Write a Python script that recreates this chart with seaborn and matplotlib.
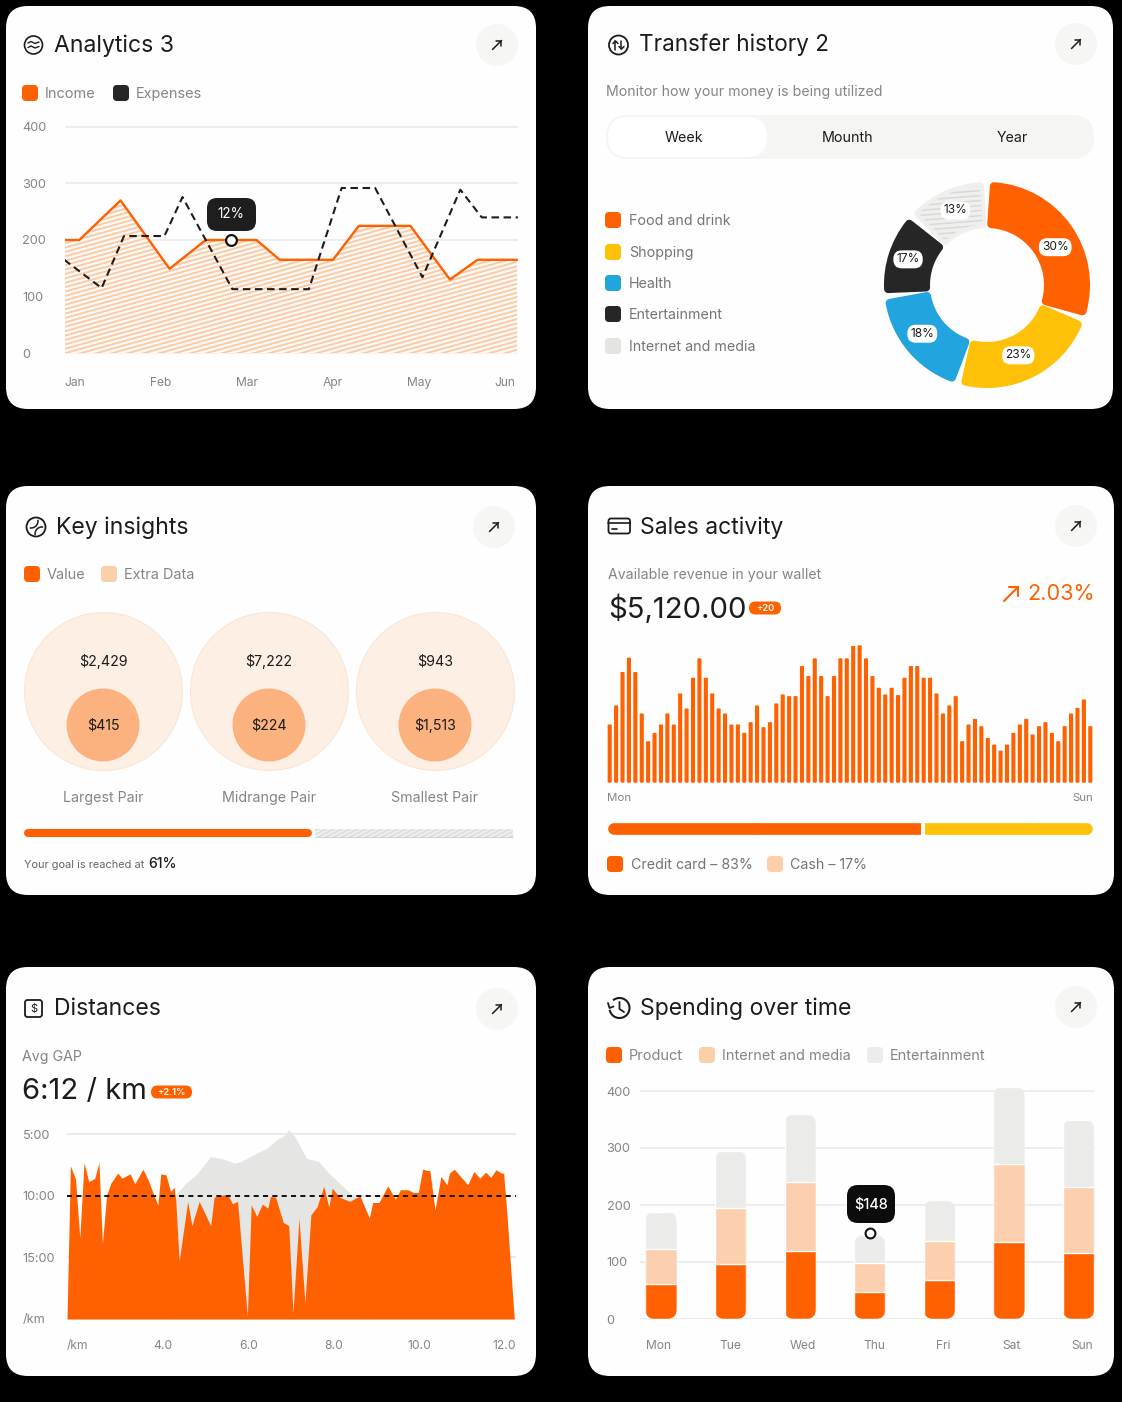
import numpy as np
import pandas as pd
import matplotlib
matplotlib.use('Agg')
import matplotlib.pyplot as plt
import seaborn as sns
from matplotlib.lines import Line2D
from matplotlib.patches import FancyBboxPatch, Circle, Rectangle, Arc

ORANGE = '#ff6000'
DARK = '#262626'
YELLOW = '#ffc107'
BLUE = '#22a5de'
GREY = '#ececeb'
PEACH = '#fccfab'
TXT = '#1c1c1c'
SUB = '#858585'

# analytics
month_labels = ['Jan', 'Feb', 'Mar', 'Apr', 'May', 'Jun']
income_x = [-0.125, 0.05, 0.53, 1.10, 1.52, 2.11, 2.38, 3.0, 3.30, 3.90, 4.36, 4.68, 5.14]
income_y = [200, 200, 270, 149, 200, 200, 165, 165, 225, 225, 130, 165, 165]
expense_x = [-0.125, 0.31, 0.57, 1.04, 1.25, 1.83, 2.72, 3.10, 3.49, 4.04, 4.48, 4.73, 5.15]
expense_y = [165, 115, 207, 207, 276, 113, 113, 292, 292, 134, 289, 240, 240]

# transfer history
transfer_names = ['Food and drink', 'Shopping', 'Health', 'Entertainment', 'Internet and media']
transfer_labels = ['30%', '23%', '18%', '17%', '13%']
transfer_spans = [100, 78, 58, 40, 39]   # drawn arc sizes, not proportional in the source
transfer_colors = [ORANGE, YELLOW, BLUE, DARK, '#efefee']

# key insights
pair_names = ['Largest Pair', 'Midrange Pair', 'Smallest Pair']
pair_extra = ['$2,429', '$7,222', '$943']
pair_value = ['$415', '$224', '$1,513']
goal_bar = [58, 42]

# sales activity
sales = [170, 227, 327, 370, 327, 203, 120, 145, 170, 203, 170, 263, 218, 310, 368, 310, 263, 218, 203, 170,
         170, 145, 177, 227, 162, 177, 233, 260, 255, 255, 345, 315, 368, 315, 255, 315, 368, 368, 405, 407,
         368, 315, 280, 260, 280, 258, 310, 345, 345, 310, 310, 263, 203, 227, 255, 120, 170, 187, 165, 130,
         110, 92, 110, 145, 170, 187, 140, 165, 177, 145, 120, 165, 203, 220, 245, 165]
pay_split = [65, 35]

# distances
pace_km = [1.75, 1.83, 1.95, 2.05, 2.15, 2.26, 2.40, 2.50, 2.58, 2.68, 2.78, 2.94, 3.04, 3.23, 3.34, 3.53, 3.65,
           3.88, 3.95, 4.07, 4.18, 4.26, 4.30, 4.38, 4.58, 4.68, 4.85, 5.12, 5.20, 5.43, 5.55, 5.63, 5.75, 5.98,
           6.07, 6.20, 6.33, 6.46, 6.52, 6.64, 6.82, 6.95, 7.05, 7.19, 7.33, 7.47, 7.61, 7.77, 7.89, 7.97, 8.14,
           8.38, 8.62, 8.84, 8.92, 9.07, 9.27, 9.45, 9.57, 9.75, 9.87, 9.99, 10.09, 10.20, 10.26, 10.38, 10.52,
           10.66, 10.72, 10.83, 11.15, 11.29, 11.43, 11.57, 11.69, 11.81, 11.94, 11.99, 12.06, 12.24]
pace_min = [20, 7.57, 8.65, 13.43, 7.30, 8.86, 8.59, 7.30, 13.89, 9.92, 8.97, 8.16, 8.57, 8.22, 9.03, 7.84, 8.70,
            10.76, 8.22, 8.30, 9.65, 9.30, 10.32, 15.32, 10.46, 12.43, 10.46, 12.43, 10.11, 9.92, 10.11, 10.65,
            10.46, 19.78, 10.73, 11.68, 10.68, 11.0, 10.05, 10.11, 12.16, 12.43, 19.51, 11.81, 18.70, 11.54, 10.92,
            9.24, 10.92, 9.38, 10.11, 10.46, 10.0, 11.81, 10.54, 10.54, 9.19, 10.27, 9.51, 9.51, 9.73, 9.73, 7.84,
            7.95, 7.95, 11.14, 8.43, 9.11, 8.16, 7.84, 9.11, 8.03, 8.57, 8.08, 8.51, 7.89, 8.16, 8.16, 11.14, 20]
ridge_km = [4.26, 4.54, 4.78, 5.12, 5.43, 5.67, 5.83, 6.20, 6.44, 6.68, 6.84, 6.95, 7.09, 7.37, 7.65, 7.89, 8.14, 8.42, 8.62]
ridge_min = [10.05, 8.97, 8.30, 6.81, 7.03, 7.35, 7.22, 6.54, 6.14, 5.41, 5.14, 4.65, 5.19, 6.95, 7.22, 8.16, 8.97, 9.92, 10.32]
pace_ticks = [5, 10, 15, 20]
pace_labels = ['5:00', '10:00', '15:00', '/km']
km_ticks = [2, 4, 6, 8, 10, 12]
km_labels = ['/km', '4.0', '6.0', '8.0', '10.0', '12.0']

# spending
days = ['Mon', 'Tue', 'Wed', 'Thu', 'Fri', 'Sat', 'Sun']
product = [61, 96, 119, 47, 68, 135, 116]
internet = [61, 98, 121, 51, 68, 137, 116]
entertainment = [66, 101, 119, 49, 72, 135, 118]

W, H = 1122, 1402
TITLE = 23
sns.set_theme(style='white')
plt.rcParams['font.family'] = ['Inter', 'DejaVu Sans']
fig = plt.figure(figsize=(W / 100, H / 100), dpi=100, facecolor='black')


def px_axes(x0, y0, x1, y1, z=2):
    ax = fig.add_axes([x0 / W, 1 - y1 / H, (x1 - x0) / W, (y1 - y0) / H], zorder=z)
    ax.patch.set_alpha(0)
    sns.despine(ax=ax, left=True, bottom=True)
    ax.tick_params(length=0)
    return ax


bg = px_axes(0, 0, W, H, z=0)
bg.set(xlim=(0, W), ylim=(H, 0), xticks=[], yticks=[])
fg = px_axes(0, 0, W, H, z=10)
fg.set(xlim=(0, W), ylim=(H, 0), xticks=[], yticks=[])


def txt(x, y, s, size=14, color=TXT, ha='left', **kw):
    return fg.text(x, y + 0.8, s, fontsize=size * 0.72, color=color, ha=ha, va='center', **kw)


def rbox(ax, x0, y0, x1, y1, r, color, z=1):
    p = FancyBboxPatch((x0, y0), x1 - x0, y1 - y0, boxstyle=f'round,pad=0,rounding_size={r}',
                       fc=color, ec='none', zorder=z)
    ax.add_patch(p)
    return p


def key(x, y, color):
    rbox(fg, x, y - 8, x + 16, y + 8, 4, color)


def badge(x0, x1, y, s):
    rbox(fg, x0, y - 6.5, x1, y + 6.5, 6.5, ORANGE)
    txt((x0 + x1) / 2, y - 0.5, s, 9.5, 'white', ha='center', weight='semibold')


def arrow(ax, x, y, s, color=TXT, lw=1.1):
    ax.plot([x - s, x + s], [y + s, y - s], color=color, lw=lw, solid_capstyle='round')
    ax.plot([x - s * 0.3, x + s, x + s], [y - s, y - s, y + s * 0.3], color=color, lw=lw,
            solid_capstyle='round', solid_joinstyle='round')


def go_button(x, y):
    fg.add_patch(Circle((x, y), 21, fc='#f6f6f5', ec='none'))
    arrow(fg, x, y, 4.5)


def stripes(ax, clip, clip_tr, box, gap=4.4, slope=-0.28, color='#fbc9a4', lw=1.35):
    x0, y0, x1, y1 = box
    span = abs(slope) * (x1 - x0)
    for c in np.arange(y0 - span, y1 + span, gap):
        ln = Line2D([x0, x1], [c, c + slope * (x1 - x0)], color=color, lw=lw, transform=bg.transData)
        ax.add_artist(ln)
        if clip_tr is None:
            ln.set_clip_path(clip)
        else:
            ln.set_clip_path(clip, clip_tr)


# cards
for box in [(6, 6, 536, 409), (588, 6, 1113, 409), (6, 486, 536, 895), (588, 486, 1114, 895),
            (6, 967, 536, 1376), (588, 967, 1114, 1376)]:
    rbox(bg, *box, 22, '#fefefe')

# --- Analytics 3
txt(54, 45, 'Analytics 3', TITLE)
go_button(497, 45)
fg.add_patch(Circle((33.5, 45), 9, fc='none', ec=TXT, lw=1.2))
for dy in (-2, 2.5):
    fg.plot([28, 31, 35, 39], [45 + dy, 43.5 + dy, 45.5 + dy, 44 + dy], color=TXT, lw=1)
key(22, 93, ORANGE)
txt(45, 93, 'Income', 14.5, SUB)
key(113, 93, DARK)
txt(136, 93, 'Expenses', 14.5, SUB)

ax = px_axes(65, 127 - 3, 518, 353 + 3)
ax.set_xlim(-0.116, 5.151)
ax.set_ylim(-5.3, 405.3)
ax.set_yticks([0, 100, 200, 300, 400])
ax.set_xticks(range(6), month_labels)
ax.grid(axis='y', color='#e9e9e9', lw=1.1)
ax.set_axisbelow(True)
ax.tick_params(axis='y', pad=31, labelsize=9.2, labelcolor=SUB)
ax.tick_params(axis='x', pad=15, labelsize=8.7, labelcolor=SUB)
for lb in ax.get_yticklabels():
    lb.set_ha('left')
area = ax.fill_between(income_x, income_y, 0, color='#fff9f5', lw=0)
stripes(ax, area.get_paths()[0], ax.transData, (60, 190, 525, 360))
sns.lineplot(x=income_x, y=income_y, color=ORANGE, lw=1.7, sort=False, estimator=None, ax=ax)
sns.lineplot(x=expense_x, y=expense_y, color='#1d1d1d', lw=1.5, sort=False, estimator=None, ax=ax,
             dashes=False, linestyle=(0, (3.6, 2.2)))
sns.scatterplot(x=[1.81], y=[200], s=60, color='white', edgecolor='#111111', linewidth=1.6, ax=ax, zorder=5)
rbox(fg, 207, 198, 256, 231, 10, '#1e1e1e')
txt(231, 213, '12%', 13.5, 'white', ha='center')

# --- Transfer history 2
txt(639, 44, 'Transfer history 2', 22.5)
go_button(1076, 44)
fg.add_patch(Circle((618.5, 45), 9.5, fc='none', ec=TXT, lw=1.3))
fg.plot([615.5, 615.5], [41, 49.5], color=TXT, lw=1.1)
fg.plot([613, 615.5, 618], [43.5, 41, 43.5], color=TXT, lw=1.1)
fg.plot([621.5, 621.5], [40.5, 49], color=TXT, lw=1.1)
fg.plot([619, 621.5, 624], [46.5, 49, 46.5], color=TXT, lw=1.1)
txt(606, 91, 'Monitor how your money is being utilized', 14.1, SUB)
rbox(fg, 606, 115, 1094, 159, 22, '#f5f5f4')
rbox(fg, 608, 117, 767, 157, 20, '#ffffff')
for lx, lab in zip([684, 848, 1012], ['Week', 'Mounth', 'Year']):
    txt(lx, 137, lab, 14.2, ha='center')
for ly, c, lab in zip([220, 252, 283, 314, 346], [ORANGE, YELLOW, BLUE, DARK, '#e4e4e3'], transfer_names):
    key(605, ly, c)
    txt(629, ly, lab, 14.2, '#757575')

ax = px_axes(987 - 120, 285 - 120, 987 + 120, 285 + 120)
gap = 8.0
vals, labs = [], []
for sp, lab in zip(transfer_spans, transfer_labels):
    vals += [sp, gap]
    labs += [lab, '']
wedges, texts = ax.pie(vals, labels=labs, radius=99, startangle=86, counterclock=False, labeldistance=0.8,
                       wedgeprops=dict(width=38))
ax.set_xlim(-120, 120)
ax.set_ylim(-120, 120)
for i, w in enumerate(wedges):
    if i % 2:
        w.set_visible(False)
    else:
        c = transfer_colors[i // 2]
        w.set_facecolor(c)
        w.set_edgecolor(c)
        w.set_linewidth(5.8)
        w.set_joinstyle('round')
stripes(ax, wedges[8], None, (900, 170, 1000, 260), gap=5.0, slope=-0.08, color='#d9d9d8', lw=1.1)
# label spots sit a little off the arc middles in the source
label_angle = [61, 156, 233, 288, 337]
label_radius = [78, 77, 81, 83, 81]
shown = [t for t in texts if t.get_text()]
for t, a, r in zip(shown, label_angle, label_radius):
    t.set_position((r * np.sin(np.radians(a)), r * np.cos(np.radians(a))))
    t.set(ha='center', va='center', fontsize=8.6, color=TXT, zorder=6)
    t.set_bbox(dict(boxstyle='round,pad=0.25,rounding_size=0.7', fc='white', ec='none'))

# --- Key insights
txt(56, 527, 'Key insights', TITLE)
go_button(494, 527)
fg.add_patch(Circle((36, 527), 9.5, fc='none', ec=TXT, lw=1.3))
fg.add_patch(Arc((31, 521), 14, 14, theta1=-10, theta2=100, ec=TXT, lw=1.1))
fg.add_patch(Arc((42, 534), 14, 14, theta1=170, theta2=280, ec=TXT, lw=1.1))
key(24, 574, ORANGE)
txt(47, 574, 'Value', 14.5, SUB)
key(101, 574, PEACH)
txt(124, 574, 'Extra Data', 14.5, SUB)

ax = px_axes(6, 600, 536, 780)
ax.set(xlim=(-97 / 166, 433 / 166), ylim=(1, 0), xticks=[], yticks=[])  # 166 px between the pairs
idx = np.arange(len(pair_names))
pair_df = pd.DataFrame({'pair': idx, 'outer': 0.5056, 'inner': 0.6944})
sns.scatterplot(data=pair_df, x='pair', y='outer', s=(158 * 0.72) ** 2, color='#fdefe4', edgecolor='#fae6d6',
                linewidth=0.8, ax=ax, clip_on=False, zorder=2)
sns.scatterplot(data=pair_df, x='pair', y='inner', s=(73 * 0.72) ** 2, color='#fbb27f', edgecolor='none',
                ax=ax, clip_on=False, zorder=3)
ax.set(xlabel=None, ylabel=None)
for i, (nm, ex, va) in enumerate(zip(pair_names, pair_extra, pair_value)):
    cx = 103 + 166 * i
    txt(cx, 661, ex, 14.2, ha='center')
    txt(cx, 725, va, 14.2, ha='center')
    txt(cx, 797, nm, 14.2, SUB, ha='center')

ax = px_axes(20, 823, 518, 843)
ax.set(xlim=(-8 / 4.82, 100 + 8 / 4.82), ylim=(-1, 1), xticks=[], yticks=[])
ax.hlines(0, 0, goal_bar[0], color=ORANGE, lw=5.8, capstyle='round', zorder=3)
track = Rectangle((goal_bar[0] + 1.6, -0.4), goal_bar[1] - 1.0, 0.8, fc='#f0f0ef', ec='none', zorder=2)
ax.add_patch(track)
ax.hlines(-0.4, goal_bar[0] + 1.6, 100.6, color='#d2d2d1', lw=0.8, zorder=3)
stripes(ax, track, None, (300, 820, 520, 845), gap=4.0, slope=-0.5, color='#dcdcdb', lw=1.1)
txt(24, 864, 'Your goal is reached at', 11, '#666666')
txt(148, 863, '61%', 14, weight='medium')

# --- Sales activity
txt(640, 527, 'Sales activity', TITLE)
go_button(1076, 526)
fg.add_patch(FancyBboxPatch((608.5, 518.5), 21.5, 15, boxstyle='round,pad=0,rounding_size=2.5', fc='none', ec=TXT, lw=1.3))
fg.plot([608.5, 630], [523, 523], color=TXT, lw=1.2)
fg.plot([612, 617], [529, 529], color=TXT, lw=1.2)
txt(608, 574, 'Available revenue in your wallet', 14.1, SUB)
txt(608, 608, '$5,120.00', 29.2)
badge(749, 781, 608, '+20')
arrow(fg, 1011, 594, 7, ORANGE, 1.5)
txt(1027, 593, '2.03%', 21.7, ORANGE)

ax = px_axes(606.5, 646, 1093.5, 782)
sns.barplot(x=np.arange(len(sales)), y=sales, color=ORANGE, saturation=1, width=0.42, ax=ax)
ax.set_xlim(-0.5, len(sales) - 0.5)
ax.set_ylim(0, 407)
ax.set(xticks=[], yticks=[], xlabel=None, ylabel=None)
for b in ax.patches:
    b.set_edgecolor(ORANGE)
    b.set_linewidth(1.0)
    b.set_joinstyle('round')
    b.set_clip_on(False)
    b.set_snap(False)
txt(607, 797, 'Mon', 11.5, SUB)
txt(1093, 797, 'Sun', 11.5, SUB, ha='right')

ax = px_axes(602, 820, 1099, 838)
ax.set(xlim=(-12 / 4.73, 100 + 12 / 4.73), ylim=(-1, 1), xticks=[], yticks=[])
ax.hlines(0, 0, 30, color=ORANGE, lw=8.4, capstyle='round')
ax.hlines(0, 30, pay_split[0], color=ORANGE, lw=8.4, capstyle='butt')
ax.hlines(0, pay_split[0] + 0.7, 90, color=YELLOW, lw=8.4, capstyle='butt')
ax.hlines(0, 90, 100, color=YELLOW, lw=8.4, capstyle='round')
key(607, 864, ORANGE)
txt(631, 864, 'Credit card \u2013 83%', 14.2, '#757575')
key(767, 864, PEACH)
txt(790, 864, 'Cash \u2013 17%', 14.2, '#757575')

# --- Distances
txt(54, 1008, 'Distances', TITLE)
go_button(497, 1009)
fg.add_patch(FancyBboxPatch((25, 1000), 17, 17, boxstyle='round,pad=0,rounding_size=2.5', fc='none', ec=TXT, lw=1.3))
txt(33.5, 1008, '$', 11, ha='center')
txt(22, 1056, 'Avg GAP', 14.2, SUB)
txt(22, 1091, '6:12 / km', 29.2)
badge(151, 192, 1092, '+2.1%')

ax = px_axes(67, 1128, 516, 1319)
ax.set_xlim(1.75, 12.28)
ax.set_ylim(20, 4.5)
ax.set_yticks(pace_ticks, pace_labels)
ax.set_xticks(km_ticks, km_labels)
ax.grid(axis='y', color='#e6e6e5', lw=1.2)
ax.set_axisbelow(True)
ax.tick_params(axis='y', pad=32, labelsize=9.2, labelcolor=SUB)
ax.tick_params(axis='x', pad=15, labelsize=8.7, labelcolor=SUB)
for lb in ax.get_yticklabels():
    lb.set_ha('left')
ax.fill_between(ridge_km, ridge_min, 20, color='#e5e5e4', lw=0, zorder=2)
ax.fill_between(pace_km, pace_min, 20, color=ORANGE, lw=0, zorder=3)
sns.lineplot(x=[1.75, 12.28], y=[10, 10], color='#111111', lw=1.4, dashes=False, linestyle=(0, (2.6, 2.2)),
             ax=ax, zorder=4)

# --- Spending over time
txt(640, 1008, 'Spending over time', TITLE)
go_button(1076, 1007)
fg.add_patch(Arc((619.5, 1008), 20, 20, theta1=-130, theta2=170, ec=TXT, lw=1.5))
fg.plot([619.5, 619.5, 624], [1002, 1009, 1012], color=TXT, lw=1.3)
fg.plot([608, 609.5, 613.5], [1003, 1008, 1006.5], color=TXT, lw=1.3)
key(606, 1055, ORANGE)
txt(629, 1055, 'Product', 14.5, SUB)
key(699, 1055, PEACH)
txt(722, 1055, 'Internet and media', 14.5, SUB)
key(867, 1055, GREY)
txt(890, 1055, 'Entertainment', 14.5, SUB)

ax = px_axes(640, 1079.6, 1095, 1319)
p1 = np.array(product)
p2 = p1 + np.array(internet)
p3 = p2 + np.array(entertainment)
for vals_, col in zip([p3, p2, p1], ['#ebebea', '#fcd0ae', ORANGE]):
    sns.barplot(x=days, y=vals_, color=col, saturation=1, width=0.45, ax=ax, zorder=3)
ax.set_xlim(-0.302, 6.236)
ax.set_ylim(0, 420)
ax.set(xlabel=None, ylabel=None)
# rounded bar shape shared by the three stacked layers
r_x, r_y = 10 / 69.6, 10 / 0.57
for b in list(ax.patches):
    col_i = int(round(b.get_x() + b.get_width() / 2))
    cp = FancyBboxPatch((col_i - 0.225, 0), 0.45, p3[col_i], boxstyle=f'round,pad=0,rounding_size={r_x}',
                        mutation_aspect=r_y / r_x, transform=ax.transData)
    b.set_clip_path(cp)
ax.set_yticks([0, 100, 200, 300, 400])
ax.set_xticks([-0.04, 0.99, 2.04, 3.07, 4.05, 5.03, 6.05], days)
ax.grid(axis='y', color='#e9e9e9', lw=1.1)
ax.set_axisbelow(True)
ax.tick_params(axis='y', pad=24, labelsize=9.2, labelcolor=SUB)
ax.tick_params(axis='x', pad=15, labelsize=8.7, labelcolor=SUB)
for lb in ax.get_yticklabels():
    lb.set_ha('left')
sns.scatterplot(x=[3], y=[151], s=50, color='white', edgecolor='#111111', linewidth=1.5, ax=ax, zorder=6,
                clip_on=False)
rbox(fg, 847, 1185, 895, 1223, 11, '#0c0c0c')
txt(871, 1204, '$148', 14.5, 'white', ha='center', weight='medium')

fig.savefig('out.png', dpi=100, facecolor='black')
